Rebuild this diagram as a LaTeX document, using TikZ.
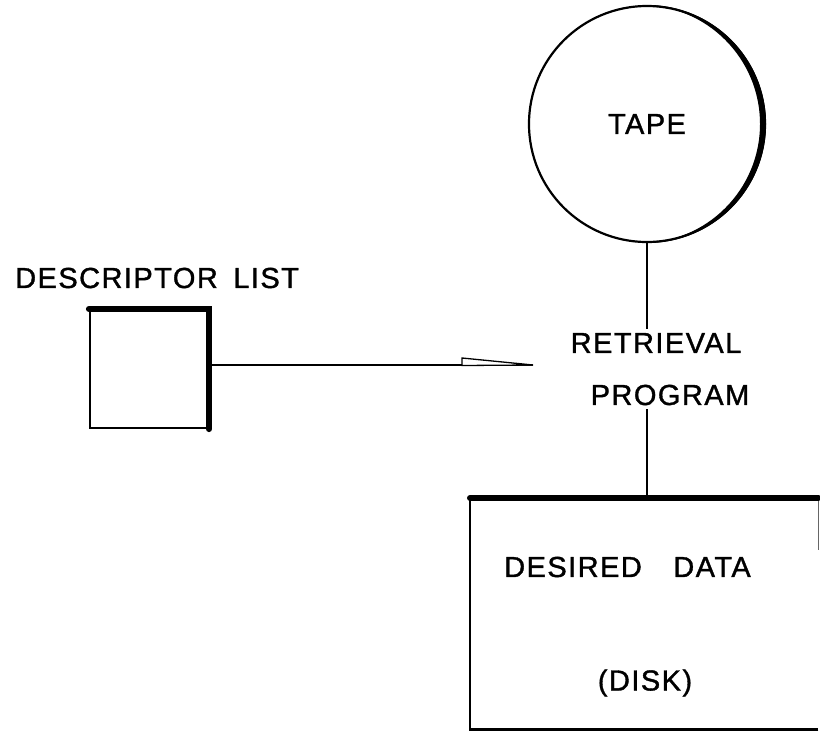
\documentclass[tikz,border=0pt]{standalone}
\usepackage{fontspec}
\setmainfont{Liberation Sans}[LetterSpace=5, FakeBold=1.2]
\begin{document}
\begin{tikzpicture}[x=1pt,y=-1pt,
  thin line/.style={line width=2.2pt, black},
  thick edge/.style={line width=6pt, black, line cap=round},
  lbl/.style={inner sep=4pt, font=\fontsize{29}{34}\selectfont},
  conn/.style={line width=1.8pt, black}]
\useasboundingbox (0,0) rectangle (820,731);
% TAPE
\node[circle, draw, thin line, minimum size=236pt, inner sep=0pt, lbl] (tape) at (647,124) {TAPE};
\begin{scope}
  \clip (647,0) rectangle (820,260);
  \fill[black, even odd rule] (647,124) circle (119pt) (641,124) circle (119pt);
\end{scope}
% RETRIEVAL PROGRAM
\node[lbl] (ret) at (656,343) {RETRIEVAL};
\node[lbl] (prg) at (670,395) {PROGRAM};
% Descriptor list
\node[lbl, anchor=west] (dlabel) at (11,278) {DESCRIPTOR\hspace{6pt} LIST};
\node[draw, thin line, minimum width=118pt, minimum height=118pt, inner sep=0pt] (desc) at (149,369) {};
\draw[thick edge] (desc.north west) -- (desc.north east) -- (desc.south east);
% Disk
\coordinate (dnw) at (470,498);
\node[minimum width=348pt, minimum height=231pt, inner sep=0pt, anchor=north west] (disk) at (dnw) {};
\node[lbl, anchor=west] (desired) at (500,567) {DESIRED\hspace{22pt} DATA};
\node[lbl] (dsk) at (645,683) {(DISK)};
\draw[thin line] (disk.south east) -- (disk.south west) -- (disk.north west);
\draw[line width=1pt, black!60] (disk.north east) -- ([yshift=-52pt]disk.north east);
\draw[thick edge] (disk.north west) -- (disk.north east);
% connectors
\draw[conn] (tape.south) -- (tape.south |- ret.north);
\draw[conn] (tape.south |- prg.south) -- (tape.south |- disk.north);
\coordinate (tip) at (533,365);
\draw[conn] (desc.east |- tip) -- (tip);
\draw[line width=1.3pt, black, fill=white, line join=miter] (tip) -- (462,358) -- (462,365.5) -- cycle;
\end{tikzpicture}
\end{document}
